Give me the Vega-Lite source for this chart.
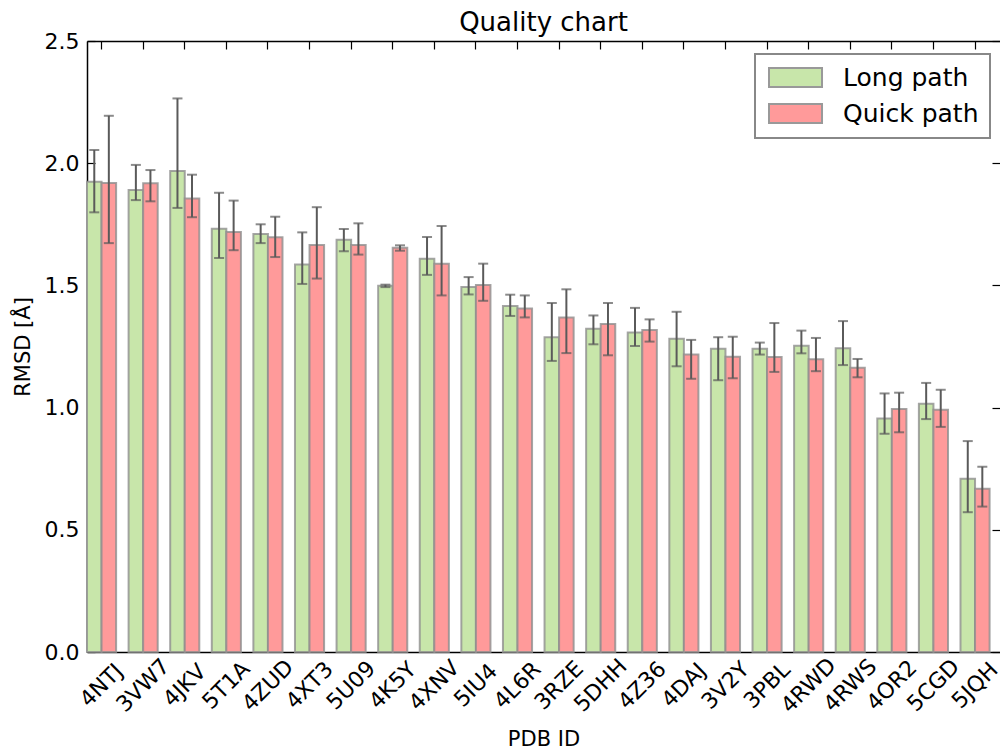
{
  "$schema": "https://vega.github.io/schema/vega-lite/v6.json",
  "autosize": {"type": "none"},
  "padding": {"left": 87, "top": 41, "right": 0, "bottom": 97},
  "width": 913,
  "height": 611,
  "background": "white",
  "title": {"text": "Quality chart", "font": "DejaVu Sans", "fontSize": 26, "fontWeight": "normal", "color": "black", "anchor": "middle", "offset": -6},
  "config": {
    "view": {"stroke": null},
    "axis": {"domainColor": "black", "domainWidth": 1.5, "tickColor": "black", "tickWidth": 1.2, "tickSize": -8, "labelFont": "DejaVu Sans", "labelFontSize": 22, "labelColor": "black", "titleFont": "DejaVu Sans", "titleFontSize": 21, "titleFontWeight": "normal", "titleColor": "black", "grid": false},
    "legend": {"orient": "none", "legendX": 668, "legendY": 13, "title": null, "symbolType": "M-1,-1L4.58,-1L4.58,1L-1,1Z", "symbolSize": 361, "symbolStrokeColor": "#999999", "symbolStrokeWidth": 2, "symbolOpacity": 1, "labelFont": "DejaVu Sans", "labelFontSize": 25, "labelColor": "black", "labelOffset": 52, "rowPadding": 9, "padding": 11, "strokeColor": "#888888", "strokeWidth": 2, "fillColor": "white"}
  },
  "data": {"values": [
    {"pdb": "4NTJ", "path": "Long path", "v": 1.924, "lo": 1.799, "hi": 2.054},
    {"pdb": "4NTJ", "path": "Quick path", "v": 1.919, "lo": 1.673, "hi": 2.194},
    {"pdb": "3VW7", "path": "Long path", "v": 1.890, "lo": 1.849, "hi": 1.993},
    {"pdb": "3VW7", "path": "Quick path", "v": 1.918, "lo": 1.844, "hi": 1.972},
    {"pdb": "4JKV", "path": "Long path", "v": 1.968, "lo": 1.817, "hi": 2.265},
    {"pdb": "4JKV", "path": "Quick path", "v": 1.856, "lo": 1.779, "hi": 1.953},
    {"pdb": "5T1A", "path": "Long path", "v": 1.732, "lo": 1.612, "hi": 1.879},
    {"pdb": "5T1A", "path": "Quick path", "v": 1.718, "lo": 1.644, "hi": 1.847},
    {"pdb": "4ZUD", "path": "Long path", "v": 1.710, "lo": 1.673, "hi": 1.750},
    {"pdb": "4ZUD", "path": "Quick path", "v": 1.697, "lo": 1.616, "hi": 1.781},
    {"pdb": "4XT3", "path": "Long path", "v": 1.586, "lo": 1.506, "hi": 1.717},
    {"pdb": "4XT3", "path": "Quick path", "v": 1.665, "lo": 1.528, "hi": 1.820},
    {"pdb": "5U09", "path": "Long path", "v": 1.687, "lo": 1.640, "hi": 1.731},
    {"pdb": "5U09", "path": "Quick path", "v": 1.665, "lo": 1.626, "hi": 1.754},
    {"pdb": "4K5Y", "path": "Long path", "v": 1.499, "lo": 1.493, "hi": 1.503},
    {"pdb": "4K5Y", "path": "Quick path", "v": 1.654, "lo": 1.642, "hi": 1.664},
    {"pdb": "4XNV", "path": "Long path", "v": 1.609, "lo": 1.543, "hi": 1.698},
    {"pdb": "4XNV", "path": "Quick path", "v": 1.589, "lo": 1.459, "hi": 1.743},
    {"pdb": "5IU4", "path": "Long path", "v": 1.493, "lo": 1.463, "hi": 1.534},
    {"pdb": "5IU4", "path": "Quick path", "v": 1.502, "lo": 1.437, "hi": 1.589},
    {"pdb": "4L6R", "path": "Long path", "v": 1.416, "lo": 1.375, "hi": 1.462},
    {"pdb": "4L6R", "path": "Quick path", "v": 1.405, "lo": 1.369, "hi": 1.459},
    {"pdb": "3RZE", "path": "Long path", "v": 1.288, "lo": 1.191, "hi": 1.428},
    {"pdb": "3RZE", "path": "Quick path", "v": 1.369, "lo": 1.223, "hi": 1.484},
    {"pdb": "5DHH", "path": "Long path", "v": 1.323, "lo": 1.259, "hi": 1.377},
    {"pdb": "5DHH", "path": "Quick path", "v": 1.342, "lo": 1.214, "hi": 1.428},
    {"pdb": "4Z36", "path": "Long path", "v": 1.307, "lo": 1.252, "hi": 1.408},
    {"pdb": "4Z36", "path": "Quick path", "v": 1.318, "lo": 1.270, "hi": 1.361},
    {"pdb": "4DAJ", "path": "Long path", "v": 1.282, "lo": 1.169, "hi": 1.392},
    {"pdb": "4DAJ", "path": "Quick path", "v": 1.217, "lo": 1.118, "hi": 1.277},
    {"pdb": "3V2Y", "path": "Long path", "v": 1.241, "lo": 1.112, "hi": 1.288},
    {"pdb": "3V2Y", "path": "Quick path", "v": 1.208, "lo": 1.120, "hi": 1.290},
    {"pdb": "3PBL", "path": "Long path", "v": 1.241, "lo": 1.217, "hi": 1.266},
    {"pdb": "3PBL", "path": "Quick path", "v": 1.207, "lo": 1.146, "hi": 1.346},
    {"pdb": "4RWD", "path": "Long path", "v": 1.253, "lo": 1.222, "hi": 1.315},
    {"pdb": "4RWD", "path": "Quick path", "v": 1.198, "lo": 1.149, "hi": 1.285},
    {"pdb": "4RWS", "path": "Long path", "v": 1.243, "lo": 1.174, "hi": 1.354},
    {"pdb": "4RWS", "path": "Quick path", "v": 1.163, "lo": 1.124, "hi": 1.199},
    {"pdb": "4OR2", "path": "Long path", "v": 0.955, "lo": 0.893, "hi": 1.058},
    {"pdb": "4OR2", "path": "Quick path", "v": 0.994, "lo": 0.899, "hi": 1.061},
    {"pdb": "5CGD", "path": "Long path", "v": 1.016, "lo": 0.953, "hi": 1.101},
    {"pdb": "5CGD", "path": "Quick path", "v": 0.991, "lo": 0.921, "hi": 1.073},
    {"pdb": "5JQH", "path": "Long path", "v": 0.709, "lo": 0.572, "hi": 0.863},
    {"pdb": "5JQH", "path": "Quick path", "v": 0.668, "lo": 0.595, "hi": 0.758}
  ]},
  "resolve": {"axis": {"x": "independent", "y": "independent"}},
  "layer": [
    {
      "mark": {"type": "bar", "stroke": "#8f8f8f", "strokeWidth": 2, "strokeOpacity": 0.8},
      "encoding": {
        "x": {"field": "pdb", "type": "nominal", "sort": null, "scale": {"paddingInner": 0.3, "paddingOuter": 0.125, "align": 0}, "axis": {"orient": "bottom", "title": "PDB ID", "labelAngle": -45, "labelAlign": "center", "labelBaseline": "middle", "labelPadding": 41, "titlePadding": 12}},
        "xOffset": {"field": "path", "type": "nominal", "scale": {"paddingInner": 0, "paddingOuter": 0}},
        "y": {"field": "v", "type": "quantitative", "scale": {"domain": [0, 2.5], "nice": false, "zero": true}, "axis": {"orient": "left", "title": "RMSD [Å]", "values": [0, 0.5, 1, 1.5, 2, 2.5], "format": ".1f", "labelPadding": 16, "titlePadding": 11}},
        "color": {"field": "path", "type": "nominal", "scale": {"domain": ["Long path", "Quick path"], "range": ["#c8e6aa", "#ff9a9a"]}, "legend": {}}
      }
    },
    {
      "mark": {"type": "rule", "color": "#5a5a5a", "strokeWidth": 2},
      "encoding": {
        "x": {"field": "pdb", "type": "nominal", "sort": null, "axis": {"orient": "top", "title": null, "labels": false}},
        "xOffset": {"field": "path", "type": "nominal"},
        "y": {"field": "lo", "type": "quantitative", "axis": {"orient": "right", "title": null, "labels": false, "domain": false, "values": [0, 0.5, 1, 1.5, 2, 2.5]}},
        "y2": {"field": "hi"}
      }
    },
    {
      "mark": {"type": "tick", "color": "#5a5a5a", "thickness": 2, "size": 10},
      "encoding": {
        "x": {"field": "pdb", "type": "nominal", "sort": null, "axis": null},
        "xOffset": {"field": "path", "type": "nominal"},
        "y": {"field": "lo", "type": "quantitative", "axis": null}
      }
    },
    {
      "mark": {"type": "tick", "color": "#5a5a5a", "thickness": 2, "size": 10},
      "encoding": {
        "x": {"field": "pdb", "type": "nominal", "sort": null, "axis": null},
        "xOffset": {"field": "path", "type": "nominal"},
        "y": {"field": "hi", "type": "quantitative", "axis": null}
      }
    }
  ]
}
